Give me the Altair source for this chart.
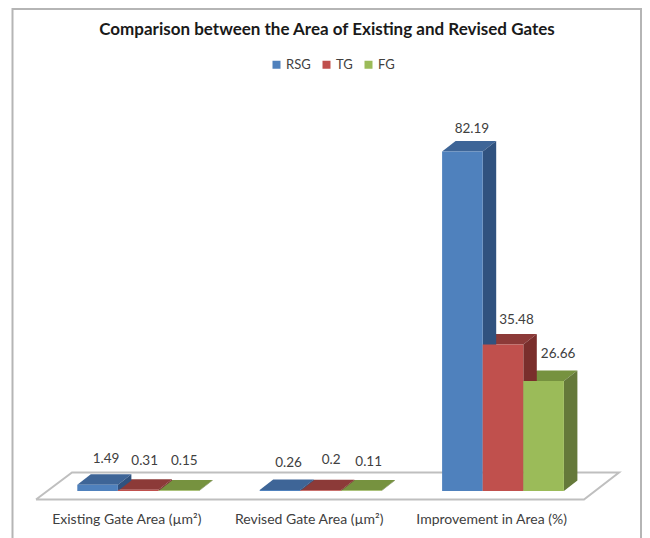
import altair as alt
import pandas as pd

title = "Comparison between the Area of Existing and Revised Gates"
categories = ["Existing Gate Area (µm²)", "Revised Gate Area (µm²)", "Improvement in Area (%)"]
series = ["RSG", "TG", "FG"]
values = {
    "RSG": [1.49, 0.26, 82.19],
    "TG": [0.31, 0.2, 35.48],
    "FG": [0.15, 0.11, 26.66],
}
label_text = {
    "RSG": ["1.49", "0.26", "82.19"],
    "TG": ["0.31", "0.2", "35.48"],
    "FG": ["0.15", "0.11", "26.66"],
}
front = ["#4F81BD", "#C0504D", "#9BBB59"]
topc = ["#3E6597", "#8C3A38", "#76923F"]
side = ["#30527F", "#7A2E2C", "#65793A"]

# hand placement of the value labels, in pixels (right, up)
nudge_x = {"RSG": [-5, -5, -4], "TG": [-7, -3, 0], "FG": [-8, -6, 1]}
nudge_y = {"RSG": [0, 1, -3], "TG": [3, 4, -1], "FG": [4, 3, 1]}

W, H = 634, 530
PX_X = 40.6          # px per bar width
PX_Y = 4.13          # px per value unit
DX = 13.5 / PX_X     # 3-D depth in x units
DY = 10.5 / PX_Y     # 3-D depth in y units
G0 = (77.3 - 8) / PX_X
GS = 182.4 / PX_X
Y0PX = 491 - 8

xs = alt.Scale(domain=[0, W / PX_X], nice=False, zero=False)
ys = alt.Scale(domain=[-(H - Y0PX) / PX_Y, Y0PX / PX_Y], nice=False, zero=False)
X = lambda f="x": alt.X(f"{f}:Q", scale=xs, axis=None, title=None)
Y = lambda f="y": alt.Y(f"{f}:Q", scale=ys, axis=None, title=None)

fronts, tops, sides, labels = [], [], [], []
for j, s in enumerate(series):
    for i, v in enumerate(values[s]):
        x0 = G0 + i * GS + j
        x1 = x0 + 1
        fronts.append(dict(x=x0, x2=x1, y=v, y2=0, s=s))
        tops.append(dict(id=f"{s}{i}", yy=v, xa=x0, xb=x1, c=topc[j]))
        tops.append(dict(id=f"{s}{i}", yy=v + DY, xa=x0 + DX, xb=x1 + DX, c=topc[j]))
        sides.append(dict(id=f"{s}{i}", xx=x1, ya=0, yb=v, c=side[j]))
        sides.append(dict(id=f"{s}{i}", xx=x1 + DX, ya=DY, yb=v + DY, c=side[j]))
        labels.append(dict(x=x0 + 0.5 + DX + nudge_x[s][i] / PX_X,
                           y=v + DY + 2.0 + nudge_y[s][i] / PX_Y,
                           t=label_text[s][i]))

top_df = pd.DataFrame(tops)
side_df = pd.DataFrame(sides)
front_df = pd.DataFrame(fronts)
label_df = pd.DataFrame(labels)

# floor parallelogram
fl = -8.5 / PX_Y
bk = 18.5 / PX_Y
fx0, fx1 = (36 - 8) / PX_X, (584 - 8) / PX_X
bx0, bx1 = (72 - 8) / PX_X, (619 - 8) / PX_X
floor_df = pd.DataFrame({
    "x": [fx0, fx1, bx1, bx0, fx0],
    "y": [fl, fl, bk, bk, fl],
    "o": [0, 1, 2, 3, 4],
})
floor = alt.Chart(floor_df).mark_line(color="#BFBFBF", strokeWidth=2).encode(
    x=X(), y=Y(), order="o:O")

# outer chart frame: open at the bottom, where the picture cuts it
ftop = Y0PX / PX_Y - 1 / PX_Y
fbot = -(H - Y0PX) / PX_Y
fl_x, fr_x = (12.5 - 8) / PX_X, (641 - 8) / PX_X
frame_df = pd.DataFrame({
    "x": [fl_x, fl_x, fr_x, fr_x],
    "y": [fbot, ftop, ftop, fbot],
    "o": [0, 1, 2, 3],
})
frame = alt.Chart(frame_df).mark_line(color="#B5B5B5", strokeWidth=2, clip=False).encode(
    x=X(), y=Y(), order="o:O")

color_scale = alt.Scale(domain=series, range=front)
front_l = alt.Chart(front_df).mark_rect(strokeWidth=0).encode(
    x=X(), x2="x2:Q", y=Y(), y2="y2:Q",
    color=alt.Color("s:N", scale=color_scale, sort=series, title=None,
                    legend=alt.Legend(orient="none", legendX=262, legendY=50, direction="horizontal",
                                      symbolType="square", symbolSize=64, symbolStrokeWidth=0,
                                      labelFont="Lato", labelFontSize=13, labelColor="#404040",
                                      columnPadding=9, labelOffset=3)))

top_l = alt.Chart(top_df).mark_area(orient="horizontal", strokeWidth=0).encode(
    y=Y("yy"), x=X("xa"), x2="xb:Q",
    color=alt.Color("c:N", scale=None), detail="id:N")
side_l = alt.Chart(side_df).mark_area(strokeWidth=0).encode(
    x=X("xx"), y=Y("ya"), y2="yb:Q",
    color=alt.Color("c:N", scale=None), detail="id:N")

text_l = alt.Chart(label_df).mark_text(font="Lato", fontSize=13.5, color="#404040", baseline="bottom").encode(
    x=X(), y=Y(), text="t:N")

cat_df = pd.DataFrame({"c": categories, "x": [G0 + 1.22 + i * GS for i in range(3)], "y": [-7.0] * 3})
cat_l = alt.Chart(cat_df).mark_text(font="Lato", fontSize=14, color="#404040", baseline="middle").encode(
    x=X(), y=Y(), text="c:N")

chart = alt.layer(frame, floor, top_l, side_l, front_l, text_l, cat_l).resolve_scale(color="independent").properties(
    width=W, height=H,
    title=alt.TitleParams(title, font="Lato", fontSize=17, fontWeight="bold", color="#1a1a1a",
                          anchor="middle", offset=-34, dx=2),
    autosize=alt.AutoSizeParams(type="none"),
    padding=0,
).configure_view(stroke=None)

chart.save("out.html", embed_options={"renderer": "svg", "actions": False})
